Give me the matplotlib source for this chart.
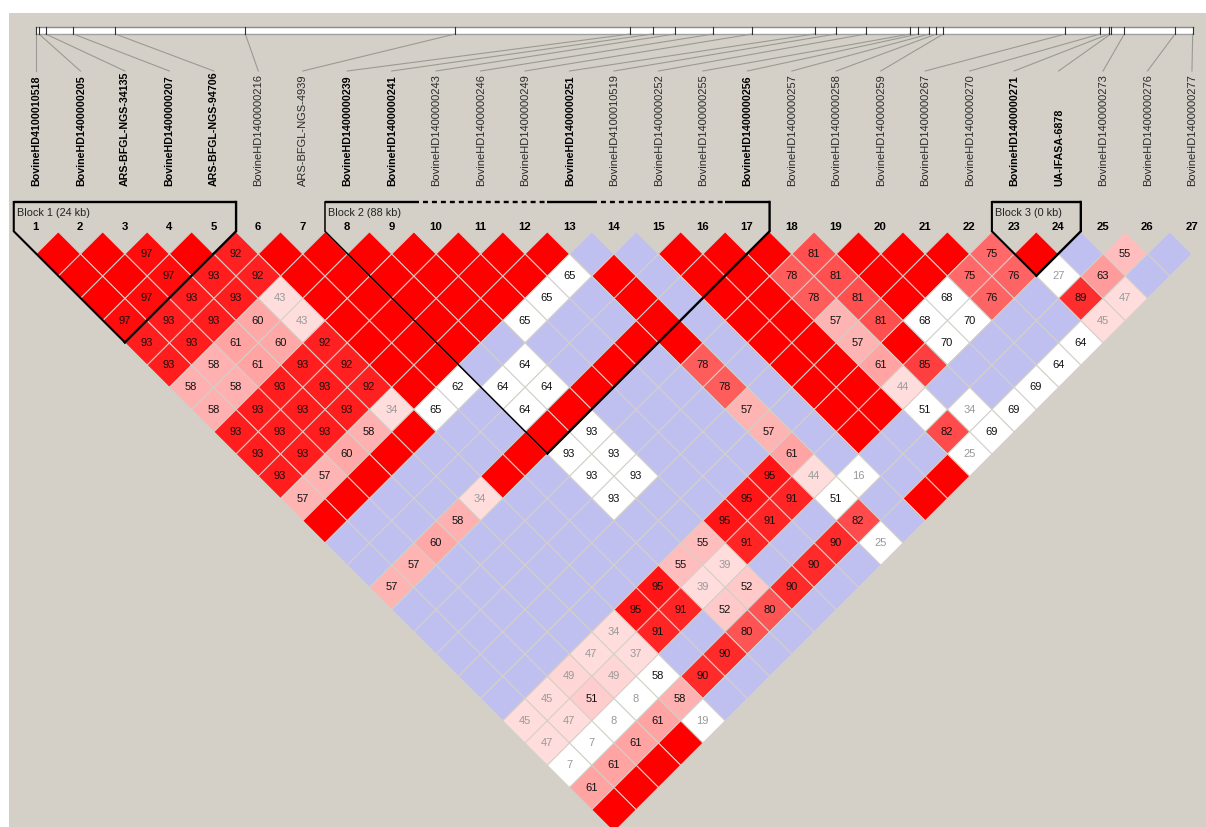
import matplotlib
matplotlib.use("Agg")
import matplotlib.pyplot as plt
from matplotlib.patches import Rectangle
from matplotlib.collections import PolyCollection

markers = ["BovineHD4100010518", "BovineHD1400000205", "ARS-BFGL-NGS-34135", "BovineHD1400000207",
           "ARS-BFGL-NGS-94706", "BovineHD1400000216", "ARS-BFGL-NGS-4939", "BovineHD1400000239",
           "BovineHD1400000241", "BovineHD1400000243", "BovineHD1400000246", "BovineHD1400000249",
           "BovineHD1400000251", "BovineHD4100010519", "BovineHD1400000252", "BovineHD1400000255",
           "BovineHD1400000256", "BovineHD1400000257", "BovineHD1400000258", "BovineHD1400000259",
           "BovineHD1400000267", "BovineHD1400000270", "BovineHD1400000271", "UA-IFASA-6878",
           "BovineHD1400000273", "BovineHD1400000276", "BovineHD1400000277"]
tagged = [1, 2, 3, 4, 5, 8, 9, 13, 17, 23, 24]
track_positions = [36, 39, 45.7, 73.3, 115.3, 245.3, 455, 630.3, 652.7, 675, 713.3, 752.3, 814.5, 836,
                   866, 910.3, 918.3, 929.3, 936.3, 943.3, 1065.3, 1100, 1109, 1110.7, 1124.3, 1175, 1192.7]

# R = strong LD (red), B = no evidence (blue), wNN = white cell with value, NN = shaded cell
ld_rows = [
    "R R 97 R 92 R R R R R R R B B R R R 81 R R R 75 R B 55 B",
    "R R 97 93 92 R R R R R R w65 R B R R 78 81 R R 75 76 w27 63 B",
    "R 97 93 93 43 R R R R R w65 B R B R R 78 81 R w68 76 B 89 47",
    "97 93 93 60 43 R R R R w65 B B R B R R 57 81 w68 w70 B B 45",
    "93 93 61 60 92 R R R B B B R R B R R 57 R w70 B B w64",
    "93 58 61 93 92 R R B w64 B R B 78 B R R 61 85 B B w64",
    "58 58 93 93 92 R w62 w64 w64 R B B 78 B R R 44 B B w69",
    "58 93 93 93 34 w65 B w64 R B B B 57 B R R w51 w34 w69",
    "93 93 93 58 R B B R w93 B B B 57 B R B 82 w69",
    "93 93 60 R B B R w93 w93 B B B 61 B B B w25",
    "93 57 R B B R B w93 w93 B B 95 44 w16 B R",
    "57 R B B 34 B B w93 B B 95 91 w51 B R",
    "R B B 58 B B B B B 95 91 B 82 B",
    "B B 60 B B B B B 55 91 B 90 w25",
    "B 57 B B B B B 55 39 B 90 B",
    "57 B B B B B 95 39 52 90 B",
    "B B B B B 95 91 52 80 B",
    "B B B B 34 91 B 80 B",
    "B B B 47 37 B 90 B",
    "B B 49 49 w58 90 B",
    "B 45 51 w8 58 B",
    "45 47 w8 61 w19",
    "47 w7 61 R",
    "w7 61 R",
    "61 R",
    "R",
]
blocks = [("Block 1 (24 kb)", 1, 5), ("Block 2 (88 kb)", 8, 17), ("Block 3 (0 kb)", 23, 24)]

BG = "#D4D0C8"
BLUE = "#C0C0F0"
X0, STEP, Y0, TOP_BOX = 36.0, 44.46, 254.0, 202.0
HALF = STEP / 2


def marker_x(i):
    return X0 + STEP * (i - 1)


def cell_center(i, j):
    return (marker_x(i) + marker_x(j)) / 2, Y0 + (j - i - 1) * HALF


def cell_color(tok):
    if tok == "R":
        return "#FF0000"
    if tok == "B":
        return BLUE
    if tok.startswith("w"):
        return "#FFFFFF"
    g = int(min(221, (100 - int(tok)) * 4.2))
    return (1.0, g / 255, g / 255)


fig = plt.figure(figsize=(12.06, 8.27), dpi=100, facecolor="white")
ax = fig.add_axes([0, 0, 1, 1])
ax.set_xlim(0, 1206)
ax.set_ylim(827, 0)
ax.axis("off")
ax.add_patch(Rectangle((9, 13), 1197, 814, facecolor=BG, edgecolor="none", zorder=0))

# gene track
bar_l, bar_r = track_positions[0], track_positions[-1]
ax.add_patch(Rectangle((bar_l, 27), bar_r - bar_l, 6.7, facecolor="white", edgecolor="none", zorder=1))
ax.plot([bar_l, bar_r], [27, 27], color="#8A8A8A", lw=1.0, zorder=2)
ax.plot([bar_l, bar_r], [33.9, 33.9], color="#A0A0A0", lw=1.0, zorder=2)
for n, p in enumerate(track_positions, start=1):
    ax.plot([p, p], [27, 34], color="#303030", lw=0.8, zorder=3)
    ax.plot([p, marker_x(n)], [34, 71], color="#9A9A94", lw=0.8, zorder=2)

# marker labels and numbers
for n, name in enumerate(markers, start=1):
    bold = n in tagged
    ax.text(marker_x(n) + 0.3, 186, name, rotation=90, ha="center", va="bottom",
            family="Liberation Sans", fontsize=7.7 if bold else 8.0,
            fontweight="bold" if bold else "normal", color="black" if bold else "#2A2A2A")
    ax.text(marker_x(n) - 0.3, 227.5, str(n), ha="center", va="center", family="Liberation Sans",
            fontsize=8.2, fontweight="bold", color="black")

# LD cells
polys, colors = [], []
for r, row in enumerate(ld_rows, start=1):
    for p, tok in enumerate(row.split(), start=1):
        cx, cy = cell_center(p, p + r)
        polys.append([(cx - HALF, cy), (cx, cy - HALF), (cx + HALF, cy), (cx, cy + HALF)])
        colors.append(cell_color(tok))
        if tok not in ("R", "B"):
            val = int(tok.lstrip("w"))
            ax.text(cx - 0.4, cy, str(val), ha="center", va="center", family="Liberation Sans", fontsize=8.0,
                    color="#111111" if val >= 50 else "#999999", zorder=6)
ax.add_collection(PolyCollection(polys, facecolors=colors, edgecolors=BG, linewidths=0.75, zorder=4))

# block outlines
for label, a, b in blocks:
    l, rgt = marker_x(a) - HALF, marker_x(b) + HALF
    top_y = Y0 - HALF - 0.5
    apex_x = (marker_x(a) + marker_x(b)) / 2
    apex_y = top_y + (marker_x(b) - marker_x(a)) / 2 + HALF
    left_lw = 1.1 if label.startswith("Block 2") else 1.5
    ax.plot([l, l, apex_x], [TOP_BOX, top_y, apex_y], color="black", lw=left_lw, zorder=7,
            solid_joinstyle="miter", solid_capstyle="projecting")
    ax.plot([apex_x, rgt, rgt], [apex_y, top_y, TOP_BOX], color="black", lw=1.7, zorder=7,
            solid_joinstyle="miter", solid_capstyle="projecting")
    # top edge: solid over tagged markers, dashed over runs of untagged ones
    runs, cur = [], None
    for i in range(a, b + 1):
        kind = i in tagged
        if cur is None or cur[0] != kind:
            cur = [kind, i, i]
            runs.append(cur)
        cur[2] = i
    for kind, s, e in runs:
        xs = [marker_x(s) - HALF, marker_x(e) + HALF]
        if kind:
            ax.plot(xs, [TOP_BOX, TOP_BOX], color="black", lw=1.7, zorder=7, solid_capstyle="butt")
        else:
            ax.plot(xs, [TOP_BOX, TOP_BOX], color="black", lw=1.7, zorder=7, dashes=(2.1, 1.7),
                    dash_capstyle="butt")
    ax.text(l + 3, 212.5, label, ha="left", va="center", family="Liberation Sans", fontsize=7.8,
            color="#222222", zorder=8)

fig.savefig("out.png", dpi=100, facecolor="white")
